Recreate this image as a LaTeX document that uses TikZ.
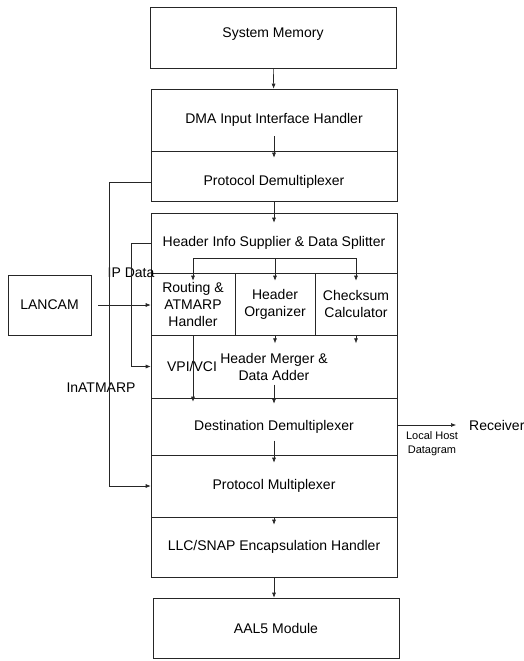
\documentclass[tikz,border=0pt]{standalone}
\usepackage{fontspec}
\setmainfont{Liberation Sans}
\usetikzlibrary{arrows.meta}
\begin{document}
\begin{tikzpicture}[x=1pt,y=-1pt,
  box/.style={draw=black!85, line width=0.6pt, minimum width=246pt, inner sep=0pt,
              align=center, font=\fontsize{14}{17}\selectfont},
  txt/.style={inner sep=0pt, align=center, font=\fontsize{14}{17}\selectfont},
  small/.style={inner sep=0pt, align=center, font=\fontsize{11}{14}\selectfont},
  link/.style={draw=black!85, line width=0.6pt},
  arr/.style={link, -{Latex[length=5pt,width=4pt]}}]
\useasboundingbox (0,0) rectangle (524,661);

% main processing column
\node[box, minimum height=61pt] (sysmem) at (273,37.5) {};
\node[txt] (sysmemt) at (273,34) {System Memory};
\node[box, minimum height=62pt] (dma) at (274,120) {DMA Input Interface Handler};
\node[box, minimum height=50pt] (pdemux) at (274,176) {};
\node[txt] (pdemuxt) at (274,182) {Protocol Demultiplexer};
\node[box, minimum height=60pt] (hinfo) at (274,243) {Header Info Supplier \& Data Splitter};
\node[box, minimum width=84pt, minimum height=62pt] (routing) at (193,304) {Routing \&\\ATMARP\\Handler};
\node[box, minimum width=80pt, minimum height=62pt] (horg) at (275,304) {Header\\Organizer};
\node[box, minimum width=82pt, minimum height=62pt] (csum) at (356,304) {Checksum\\Calculator};
\node[box, minimum height=63pt] (merger) at (274,366.5) {Header Merger \&\\Data Adder};
\node[box, minimum height=57pt] (destdemux) at (274,426.5) {Destination Demultiplexer};
\node[box, minimum height=62pt] (pmux) at (274,486) {Protocol Multiplexer};
\node[box, minimum height=60pt] (llc) at (274,547) {LLC/SNAP Encapsulation Handler};
\node[box, minimum height=60pt] (aal5) at (276,628) {AAL5 Module};

% side elements
\node[box, minimum width=83pt, minimum height=60pt] (lancam) at (49.5,305) {LANCAM};
\node[txt] (ipdata) at (131,273) {IP Data};
\node[txt] (vpivci) at (192,366) {VPI/VCI};
\node[txt] (inatmarp) at (101,388) {InATMARP};
\node[txt, anchor=west] (receiver) at (469,425) {Receiver};
\node[small] (localhost) at (432,444) {Local Host\\Datagram};

% vertical flow
\draw[arr] (sysmem) -- (dma);
\draw[arr] ([yshift=-16pt]dma.center) -- ([yshift=-7pt]pdemux.north);
\draw[arr] (pdemux.south) -- ([yshift=-10pt]hinfo.north);
\coordinate (brk) at (275,258);
\draw[link] (routing.north |- brk) -- (csum.north |- brk);
\foreach \n in {routing,horg,csum}
  \draw[arr] (\n.north |- brk) -- ([yshift=-8pt]\n.north);
\draw[arr] (routing.south) -- ([yshift=-4pt]destdemux.north -| routing.south);
\draw[arr] (horg.south) -- ([yshift=-8pt]horg.south);
\draw[arr] (csum.south) -- ([yshift=-8pt]csum.south);
\draw[arr] ([yshift=-18pt]merger.center) -- ([yshift=-6pt]destdemux.north);
\draw[arr] ([yshift=-14pt]destdemux.center) -- ([yshift=-8pt]pmux.north);
\draw[arr] (pmux.south) -- ([yshift=-8pt]llc.north);
\draw[arr] (llc.south) -- (llc.south |- aal5.north);

% side paths
\draw[arr] (pdemux.west |- pdemuxt) -- ++(-41,0) |- (pmux.west);
\draw[arr] (hinfo.west) -- ++(-19,0) |- (merger.west);
\draw[arr, shorten <=7pt] (lancam.east) -- (lancam.east -| routing.west);
\draw[arr] (destdemux.east |- receiver.west) -- ([xshift=-13pt]receiver.west);
\end{tikzpicture}
\end{document}
